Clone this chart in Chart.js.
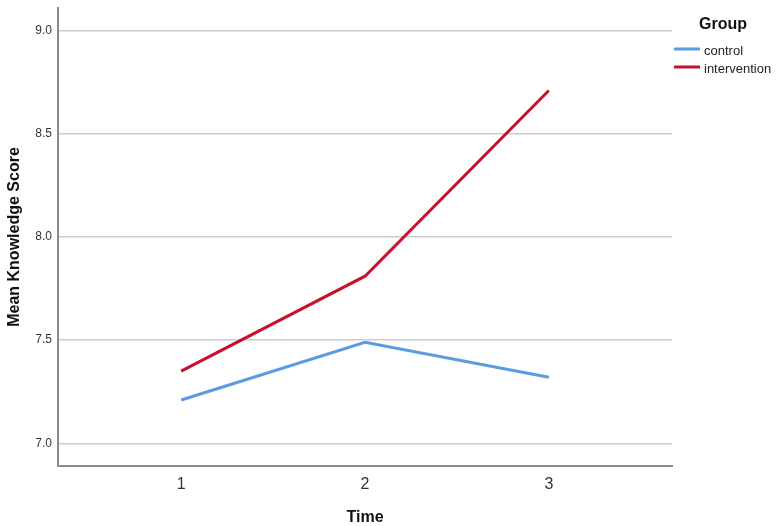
<!DOCTYPE html>
<html>
<head>
<meta charset="utf-8">
<script src="https://cdn.jsdelivr.net/npm/chart.js@4"></script>
<style>
  html, body { margin: 0; padding: 0; background: #fff; }
  #wrap { width: 776px; height: 526px; }
</style>
</head>
<body>
<div id="wrap"><canvas id="chart"></canvas></div>
<script>
const times = [1, 2, 3]
const controlMeans = [7.21, 7.49, 7.32]
const interventionMeans = [7.35, 7.81, 8.71]
const yTicks = [7.0, 7.5, 8.0, 8.5, 9.0]

const FONT = 'Arial, "Liberation Sans", sans-serif'

// legend drawn by hand, SPSS style
const groupLegend = {
    id: 'groupLegend',
    afterDraw(chart) {
        const ctx = chart.ctx
        ctx.save()
        ctx.fillStyle = '#111'
        ctx.font = 'bold 16px ' + FONT
        ctx.textBaseline = 'middle'
        ctx.fillText('Group', 699, 25)
        ctx.font = '13px ' + FONT
        chart.data.datasets.forEach((ds, i) => {
            const y = 49 + i * 18
            ctx.strokeStyle = ds.borderColor
            ctx.lineWidth = 3
            ctx.beginPath()
            ctx.moveTo(674, y)
            ctx.lineTo(700, y)
            ctx.stroke()
            ctx.fillStyle = '#222'
            ctx.fillText(ds.label, 704, y + 2)
        })
        ctx.restore()
    }
}

const ctx = document.getElementById('chart').getContext('2d')
new Chart(ctx, {
    type: 'line',
    data: {
        datasets: [
            {
                label: 'control',
                data: times.map((t, i) => ({ x: t, y: controlMeans[i] })),
                borderColor: '#5b9be0',
                borderWidth: 3,
                pointRadius: 0,
                tension: 0
            },
            {
                label: 'intervention',
                data: times.map((t, i) => ({ x: t, y: interventionMeans[i] })),
                borderColor: '#c8102e',
                borderWidth: 3,
                pointRadius: 0,
                tension: 0
            }
        ]
    },
    options: {
        responsive: true,
        maintainAspectRatio: false,
        animation: false,
        layout: { padding: { top: 8, right: 104, left: 0, bottom: 0 } },
        plugins: {
            legend: { display: false },
            tooltip: { enabled: false }
        },
        scales: {
            x: {
                type: 'linear',
                min: 0.33,
                max: 3.67,
                afterBuildTicks: (axis) => { axis.ticks = times.map((v) => ({ value: v })) },
                afterFit: (axis) => { axis.height = 60; axis.paddingLeft = 0; axis.paddingRight = 0 },
                grid: { display: false, drawTicks: false },
                border: { display: true, color: '#8a8a8a', width: 2 },
                ticks: {
                    padding: 9,
                    color: '#333',
                    font: { family: FONT, size: 16 }
                },
                title: {
                    display: true,
                    text: 'Time',
                    color: '#111',
                    font: { family: FONT, size: 16, weight: 'bold', lineHeight: 1 },
                    padding: { top: 0, bottom: 0 }
                }
            },
            y: {
                min: 6.89,
                max: 9.11,
                afterBuildTicks: (axis) => { axis.ticks = yTicks.map((v) => ({ value: v })) },
                afterFit: (axis) => { axis.width = 58; axis.paddingTop = 0; axis.paddingBottom = 0 },
                grid: { color: '#cccccc', lineWidth: 1.5, drawTicks: false },
                border: { display: true, color: '#8a8a8a', width: 2 },
                ticks: {
                    padding: 6,
                    color: '#333',
                    font: { family: FONT, size: 12 },
                    callback: (v) => v.toFixed(1)
                },
                title: {
                    display: true,
                    text: 'Mean Knowledge Score',
                    color: '#111',
                    font: { family: FONT, size: 16, weight: 'bold' },
                    padding: { top: 5, bottom: 0 }
                }
            }
        }
    },
    plugins: [groupLegend]
})
</script>
</body>
</html>
